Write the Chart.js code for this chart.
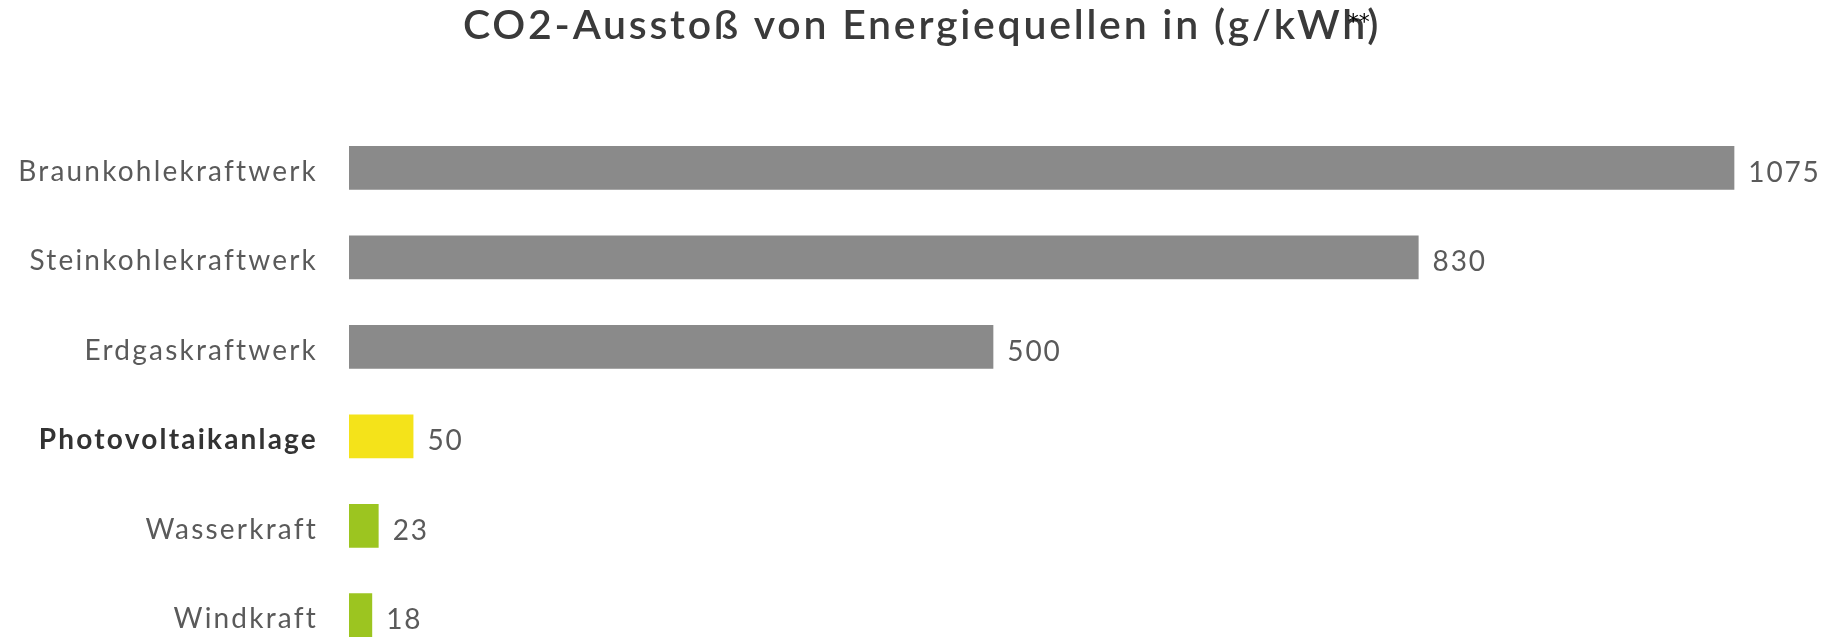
<!DOCTYPE html>
<html lang="de">
<head>
<meta charset="utf-8">
<title>CO2-Ausstoß von Energiequellen</title>
<script src="https://cdn.jsdelivr.net/npm/chart.js@4/dist/chart.umd.min.js"></script>
<style>
  html, body { margin: 0; padding: 0; background: #fff; overflow: hidden; }
  /* die letzte Zeile läuft unten aus dem sichtbaren Bereich */
  #wrap { width: 1832px; height: 637px; overflow: hidden; }
</style>
</head>
<body>
<div id="wrap"><canvas id="chart" width="1832" height="680"></canvas></div>
<script>
const quellen = ['Braunkohlekraftwerk', 'Steinkohlekraftwerk', 'Erdgaskraftwerk', 'Photovoltaikanlage', 'Wasserkraft', 'Windkraft'];
const ausstoss = [1075, 830, 500, 50, 23, 18];
const farben = ['#8a8a8a', '#8a8a8a', '#8a8a8a', '#f4e31a', '#9cc520', '#9cc520'];
const titel = 'CO2-Ausstoß von Energiequellen in (g/kWh)';
const fussnote = '**';
const hervorgehoben = 3; // Photovoltaik fett

const schrift = 'Lato, "Open Sans", sans-serif';
const titelSperrung = 2.75;
const achsenSperrung = 2.2;
const werteSperrung = 1.8;
const titelVersatz = 6.5; // Titel leicht rechts der Mitte

// Sperrung und Versatz für den Titel; die Achsenbeschriftung liegt auf
// ticks.z = 1 und wird erst nach den Balken mit eigener Sperrung gezeichnet.
const sperrung = {
    id: 'sperrung',
    beforeUpdate(chart) {
        chart.ctx.letterSpacing = achsenSperrung + 'px';
    },
    beforeDraw(chart) {
        chart.ctx.letterSpacing = titelSperrung + 'px';
        chart.ctx.translate(titelVersatz, 0);
    },
    beforeDatasetsDraw(chart) {
        chart.ctx.translate(-titelVersatz, 0);
        chart.ctx.letterSpacing = achsenSperrung + 'px';
    }
};

// Werte hinter den Balken und Fußnotenzeichen am Titel
const beschriftung = {
    id: 'beschriftung',
    afterDraw(chart) {
        const ctx = chart.ctx;
        const meta = chart.getDatasetMeta(0);
        ctx.save();
        ctx.letterSpacing = werteSperrung + 'px';
        ctx.font = '28px ' + schrift;
        ctx.fillStyle = '#5a5a5a';
        ctx.textAlign = 'left';
        ctx.textBaseline = 'middle';
        meta.data.forEach((bar, i) => {
            ctx.fillText(String(ausstoss[i]), bar.x + 14, bar.y + 5);
        });

        const box = chart.titleBlock;
        ctx.letterSpacing = titelSperrung + 'px';
        ctx.font = '600 41px ' + schrift;
        const breite = ctx.measureText(titel).width - titelSperrung;
        const klammer = ctx.measureText(')').width;
        const rechts = (box.left + box.right) / 2 + titelVersatz + breite / 2;
        ctx.letterSpacing = '0px';
        ctx.font = '22px "DejaVu Sans", sans-serif';
        ctx.fillStyle = '#000';
        ctx.textBaseline = 'top';
        ctx.fillText(fussnote, rechts - klammer - 18, 12);
        ctx.restore();
    }
};

new Chart(document.getElementById('chart'), {
    type: 'bar',
    data: {
        labels: quellen,
        datasets: [
            {
                data: ausstoss,
                backgroundColor: farben,
                borderWidth: 0,
                categoryPercentage: 1,
                barPercentage: 0.49,
            },
        ],
    },
    options: {
        indexAxis: 'y',
        responsive: false,
        animation: false,
        layout: { padding: { left: 0, right: 1, top: 0, bottom: 20 } },
        plugins: {
            legend: { display: false },
            tooltip: { enabled: false },
            title: {
                display: true,
                text: titel,
                color: '#3a3a3a',
                font: { family: schrift, size: 41, weight: 600, lineHeight: 1.2 },
                padding: { top: 1, bottom: 73 },
            },
        },
        scales: {
            x: {
                display: false,
                min: 0,
                max: 1150,
            },
            y: {
                grid: { display: false, drawTicks: false },
                border: { display: false },
                afterFit: scale => {
                    scale.width = 349;
                    scale.paddingTop = 0;
                    scale.paddingBottom = 0;
                },
                ticks: {
                    z: 1,
                    padding: 31,
                    labelOffset: 4,
                    color: ctx => ctx.index === hervorgehoben ? '#333333' : '#5a5a5a',
                    font: ctx => ({
                        family: schrift,
                        size: 28,
                        weight: ctx.index === hervorgehoben ? 'bold' : 'normal',
                    }),
                },
            },
        },
    },
    plugins: [sperrung, beschriftung],
});
</script>
</body>
</html>
